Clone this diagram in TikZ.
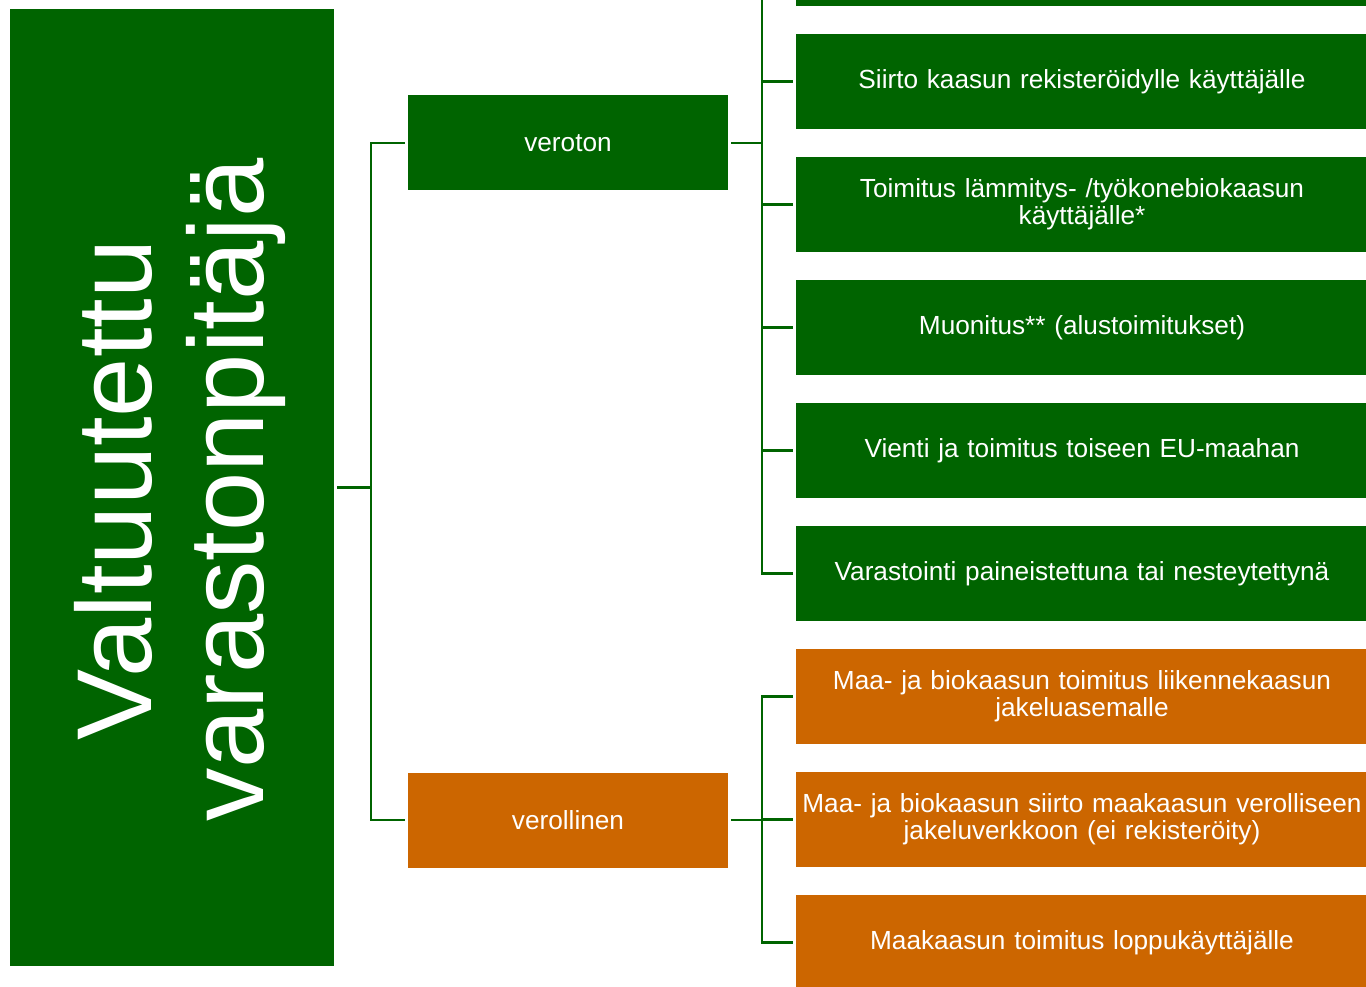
\documentclass[tikz,border=0pt]{standalone}
\usepackage{fontspec}
\setmainfont{Liberation Sans}
\definecolor{dgreen}{RGB}{0,100,0}
\definecolor{dorange}{RGB}{204,102,0}
\tikzset{
  gbox/.style={rectangle, fill=dgreen, draw=none, text=white, align=center, inner sep=0pt,
    font=\fontsize{26.2}{27}\selectfont},
  obox/.style={gbox, fill=dorange},
  leaf/.style={minimum width=572pt, minimum height=95pt, text width=570pt},
  mid/.style={minimum width=320pt, minimum height=95pt, text width=316pt},
  conn/.style={draw=dgreen, line width=2.6pt}
}
\begin{document}
\begin{tikzpicture}[x=1pt,y=-1pt]
\useasboundingbox (0,0) rectangle (1366,987);
\clip (0,0) rectangle (1366,987);
\fill[white] (0,0) rectangle (1366,987);
% root
\node[gbox, minimum width=324pt, minimum height=957pt] (root) at (172,487.5) {};
\node[text=white, rotate=90, align=center, inner sep=0pt,
  font=\fontsize{106.5}{112}\selectfont] (roottxt) at (180,490) {Valtuutettu\\varastonpitäjä};
% middle
\node[gbox, mid] (veroton) at (568,143) {veroton};
\node[obox, mid] (verollinen) at (568,820) {verollinen};
% leaves
\node[gbox, leaf] (c0) at (1082,-41.5) {};
\node[gbox, leaf] (c1) at (1082,81.5) {Siirto kaasun rekisteröidylle käyttäjälle};
\node[gbox, leaf] (c2) at (1082,204.5) {Toimitus lämmitys- /työkonebiokaasun\\käyttäjälle*};
\node[gbox, leaf] (c3) at (1082,327.5) {Muonitus** (alustoimitukset)};
\node[gbox, leaf] (c4) at (1082,450.5) {Vienti ja toimitus toiseen EU-maahan};
\node[gbox, leaf] (c5) at (1082,573.5) {Varastointi paineistettuna tai nesteytettynä};
\node[obox, leaf] (d1) at (1082,696.5) {Maa- ja biokaasun toimitus liikennekaasun\\jakeluasemalle};
\node[obox, leaf] (d2) at (1082,819.5) {Maa- ja biokaasun siirto maakaasun verolliseen\\jakeluverkkoon (ei rekisteröity)};
\node[obox, leaf] (d3) at (1082,942.5) {Maakaasun toimitus loppukäyttäjälle};
% connectors root
\coordinate (rj) at (371,487.5);
\draw[conn] ([xshift=3pt]root.east) -- (rj);
\draw[conn] (rj) |- ([xshift=-3pt]veroton.west);
\draw[conn] (rj) |- ([xshift=-3pt]verollinen.west);
% veroton
\coordinate (vj) at (762,143);
\draw[conn] ([xshift=3pt]veroton.east) -- (vj);
\foreach \c in {c0,c1,c2,c3,c4,c5}{
  \draw[conn] (vj) |- ([xshift=-3pt]\c.west);
}
% verollinen
\coordinate (oj) at (762,820);
\draw[conn] ([xshift=3pt]verollinen.east) -- (oj);
\foreach \c in {d1,d2,d3}{
  \draw[conn] (oj) |- ([xshift=-3pt]\c.west);
}
\end{tikzpicture}
\end{document}
